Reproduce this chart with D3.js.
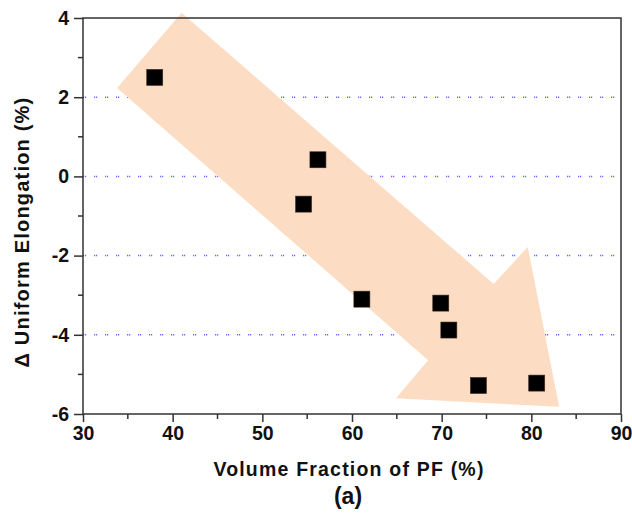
<!DOCTYPE html>
<html>
<head>
<meta charset="utf-8">
<script src="https://cdn.jsdelivr.net/npm/d3@7/dist/d3.min.js"></script>
<style>
  html, body { margin: 0; padding: 0; background: #fff; }
  svg { display: block; }
  text { font-family: "Liberation Sans", Arial, sans-serif; font-weight: bold; fill: #111; }
</style>
</head>
<body>
<svg id="chart" width="632" height="520"></svg>
<script>
// ---- data ----
const volumeFractionPF = [38.0, 56.2, 54.6, 61.1, 69.9, 70.8, 74.1, 80.6];
const deltaUniformElongation = [2.5, 0.42, -0.7, -3.1, -3.2, -3.88, -5.28, -5.22];
const xTickValues = [30, 40, 50, 60, 70, 80, 90];
const yTickValues = [-6, -4, -2, 0, 2, 4];
const gridValues = [-4, -2, 0, 2];
// trend arrow outline, in data units (x = %PF, y = Δ elongation)
const arrowX = [33.8, 41.0, 75.8, 79.6, 83.1, 64.9, 68.5];
const arrowY = [2.23, 4.13, -2.72, -1.78, -5.82, -5.60, -4.64];
const xLabel = "Volume Fraction of PF (%)";
const yLabel = "Δ Uniform Elongation (%)";
const panelLabel = "(a)";

// ---- layout ----
const mLeft = 83, mRight = 621, mTop = 18, mBottom = 414;
const svg = d3.select("#chart");
const x = d3.scaleLinear().domain([30, 90]).range([mLeft, mRight]);
const y = d3.scaleLinear().domain([-6, 4]).range([mBottom, mTop]);

// grid
svg.append("g").selectAll("line").data(gridValues).join("line")
  .attr("x1", mLeft).attr("x2", mRight)
  .attr("y1", d => y(d)).attr("y2", d => y(d))
  .attr("stroke", "#6a6aff").attr("stroke-width", 1.5)
  .attr("stroke-dasharray", "1.2,0.8,1.2,7.8");

// arrow
const arrowPts = arrowX.map((v, i) => [x(v), y(arrowY[i])]);
svg.append("path")
  .attr("d", d3.line()(arrowPts) + "Z")
  .attr("fill", "#fcdcc3");

// frame
svg.append("rect")
  .attr("x", mLeft).attr("y", mTop)
  .attr("width", mRight - mLeft).attr("height", mBottom - mTop)
  .attr("fill", "none").attr("stroke", "#333").attr("stroke-width", 1.5);

// axes
const fmt = d => String(d);
const xAxis = d3.axisBottom(x).tickValues(xTickValues).tickFormat(fmt)
  .tickSize(8).tickPadding(4);
const gx = svg.append("g").attr("transform", `translate(0,${mBottom})`).call(xAxis);
const yAxis = d3.axisLeft(y).tickValues(yTickValues).tickFormat(fmt)
  .tickSize(9).tickPadding(5);
const gy = svg.append("g").attr("transform", `translate(${mLeft},0)`).call(yAxis);

// minor ticks
const xMinor = d3.range(35, 90, 10);
svg.append("g").selectAll("line").data(xMinor).join("line")
  .attr("x1", d => x(d)).attr("x2", d => x(d))
  .attr("y1", mBottom).attr("y2", mBottom + 5)
  .attr("stroke", "#333").attr("stroke-width", 1.5);
const yMinor = d3.range(-5, 4, 2);
svg.append("g").selectAll("line").data(yMinor).join("line")
  .attr("x1", mLeft - 5).attr("x2", mLeft)
  .attr("y1", d => y(d)).attr("y2", d => y(d))
  .attr("stroke", "#333").attr("stroke-width", 1.5);

[gx, gy].forEach(g => {
  g.select(".domain").remove();
  g.selectAll(".tick line").attr("stroke", "#333").attr("stroke-width", 1.5);
  g.selectAll(".tick text")
    .attr("font-family", "'Liberation Sans', Arial, sans-serif")
    .attr("font-weight", "bold").attr("font-size", 19.5).attr("fill", "#111");
});

// points
const s = 16;
svg.append("g").selectAll("rect").data(volumeFractionPF).join("rect")
  .attr("x", (d) => x(d) - s / 2)
  .attr("y", (d, i) => y(deltaUniformElongation[i]) - s / 2)
  .attr("width", s).attr("height", s)
  .attr("fill", "#000").attr("stroke", "#3a2a20").attr("stroke-width", 0.6);

// labels
svg.append("text")
  .attr("x", (mLeft + mRight) / 2 - 3).attr("y", 476)
  .attr("text-anchor", "middle").attr("font-size", 19.5)
  .attr("letter-spacing", 1.2)
  .text(xLabel);
svg.append("text")
  .attr("x", (mLeft + mRight) / 2 - 4).attr("y", 504)
  .attr("text-anchor", "middle").attr("font-size", 23)
  .text(panelLabel);
svg.append("text")
  .attr("transform", `translate(29,232) rotate(-90)`)
  .attr("text-anchor", "middle").attr("font-size", 20)
  .attr("letter-spacing", 1.2)
  .text(yLabel);
</script>
</body>
</html>
